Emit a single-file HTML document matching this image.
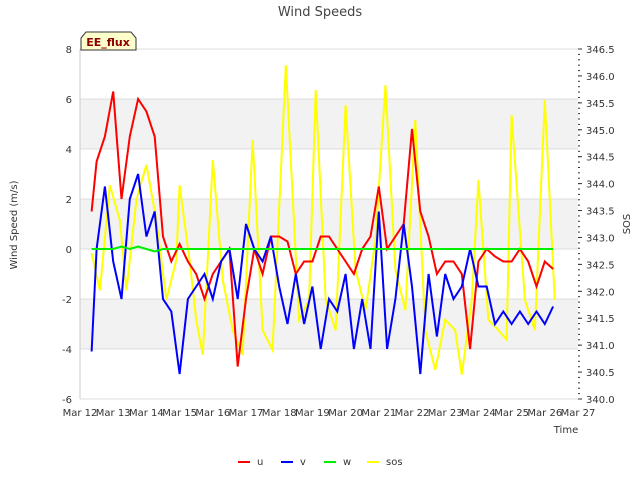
<!DOCTYPE html>
<html><head><meta charset="utf-8"><style>
body{margin:0;background:#fff;font-family:"Liberation Sans","DejaVu Sans",sans-serif}
svg text{font-family:"DejaVu Sans","Liberation Sans",sans-serif}
</style></head><body>
<svg width="640" height="480" id="c">
<text x="320" y="16" text-anchor="middle" font-size="13" fill="#444">Wind Speeds</text>
<g id="plot"></g>
</svg>
<script>
const dayTicks=[12,13,14,15,16,17,18,19,20,21,22,23,24,25,26,27];
const leftTicks=[-6,-4,-2,0,2,4,6,8];
const rightTicks=[340,340.5,341,341.5,342,342.5,343,343.5,344,344.5,345,345.5,346,346.5];
const uT=[12.35,12.5,12.75,13.0,13.25,13.5,13.75,14.0,14.25,14.5,14.75,15.0,15.25,15.5,15.75,16.0,16.25,16.5,16.75,17.0,17.25,17.5,17.75,18.0,18.25,18.5,18.75,19.0,19.25,19.5,19.75,20.0,20.25,20.5,20.75,21.0,21.25,21.5,21.75,22.0,22.25,22.5,22.75,23.0,23.25,23.5,23.75,24.0,24.25,24.5,24.75,25.0,25.25,25.5,25.75,26.0,26.25];
const uV=[1.5,3.5,4.5,6.3,2,4.5,6,5.5,4.5,0.5,-0.5,0.2,-0.5,-1,-2,-1,-0.5,0,-4.7,-2,0,-1,0.5,0.5,0.3,-1,-0.5,-0.5,0.5,0.5,0,-0.5,-1,0,0.5,2.5,0,0.5,1,4.8,1.5,0.5,-1,-0.5,-0.5,-1,-4,-0.5,0,-0.3,-0.5,-0.5,0,-0.5,-1.5,-0.5,-0.8];
const vV=[-4.1,0,2.5,-0.5,-2,2,3,0.5,1.5,-2,-2.5,-5,-2,-1.5,-1,-2,-0.5,0,-2,1,0,-0.5,0.5,-1.5,-3,-1,-3,-1.5,-4,-2,-2.5,-1,-4,-2,-4,1.5,-4,-2,1,-1.5,-5,-1,-3.5,-1,-2,-1.5,0,-1.5,-1.5,-3,-2.5,-3,-2.5,-3,-2.5,-3,-2.3];
const wV=[0,0,0,0,0.1,0,0.1,0,-0.1,0,0,0,0,0,0,0,0,0,0,0,0,0,0,0,0,0,0,0,0,0,0,0,0,0,0,0,0,0,0,0,0,0,0,0,0,0,0,0,0,0,0,0,0,0,0,0,0];
const sT=[12.35,12.6,12.9,13.2,13.4,13.7,14.0,14.3,14.6,14.9,15.0,15.3,15.5,15.7,16.0,16.3,16.6,16.9,17.2,17.5,17.8,18.2,18.6,18.9,19.1,19.4,19.7,20.0,20.3,20.6,20.9,21.2,21.5,21.8,22.1,22.4,22.7,23.0,23.3,23.5,23.8,24.0,24.3,24.6,24.85,25.0,25.4,25.7,26.0,26.3];
const sV=[342.71,342.02,343.97,343.32,342.02,343.70,344.35,343.32,341.84,342.58,343.97,342.58,341.47,340.82,344.44,342.21,341.28,340.82,344.81,341.28,340.91,346.20,341.47,341.84,345.74,341.84,341.28,345.46,342.40,341.65,342.95,345.83,342.40,341.65,345.18,341.28,340.54,341.47,341.28,340.45,341.84,344.07,341.47,341.28,341.10,345.27,341.84,341.28,345.55,341.84];
const L=80,R=578,T=49,B=399;
const xs=d=>L+(d-12)/15*(R-L);
const yl=v=>T+(8-v)/14*(B-T);
const yr=v=>T+(346.5-v)/6.5*(B-T);
const NS='http://www.w3.org/2000/svg';
const g=document.getElementById('plot');
function el(t,a,p){const e=document.createElementNS(NS,t);for(const k in a)e.setAttribute(k,a[k]);(p||g).appendChild(e);return e;}
// bands
[[6,4],[2,0],[-2,-4]].forEach(b=>{const r=el('rect',{x:L,y:yl(b[0]),width:R-L,height:yl(b[1])-yl(b[0]),fill:'#f2f2f2'});

});
leftTicks.forEach(v=>{const l=el('line',{x1:L,x2:R,y1:yl(v),y2:yl(v),stroke:'#dcdcdc','stroke-width':1});


const t=el('text',{x:L-8,y:yl(v)+4,'text-anchor':'end','font-size':10,fill:'#333'});t.textContent=v;

});
el('line',{x1:L,x2:L,y1:T,y2:B,stroke:'#ccc'});
dayTicks.forEach(d=>{const t=el('text',{x:xs(d),y:B+17,'text-anchor':'middle','font-size':10,fill:'#333'});t.textContent='Mar '+d;

});
rightTicks.forEach(v=>{el('line',{x1:R,x2:R+4,y1:yr(v),y2:yr(v),stroke:'#333'});
const t=el('text',{x:R+8,y:yr(v)+4,'font-size':10,fill:'#333'});t.textContent=v.toFixed(1);

});
for(let v=340;v<=346.5;v+=0.1){el('line',{x1:R,x2:R+2,y1:yr(v),y2:yr(v),stroke:'#333'});}
function line(ts,vs,f,col,name,w){const p=el('polyline',{points:ts.map((t,i)=>xs(t)+','+f(vs[i])).join(' '),fill:'none',stroke:col,'stroke-width':w||2});

}
line(sT,sV,yr,'#ffff00','sos-line');
line(uT,uV,yl,'#ff0000','u-line');
line(uT,vV,yl,'#0000ff','v-line');
line(uT,wV,yl,'#00ee00','w-line');
const xt=el('text',{x:566,y:433,'text-anchor':'middle','font-size':10,fill:'#333'});xt.textContent='Time';


const yt=el('text',{x:17,y:225,'text-anchor':'middle','font-size':10,fill:'#333',transform:'rotate(-90 17 225)'});yt.textContent='Wind Speed (m/s)';


const rt=el('text',{x:630,y:224,'text-anchor':'middle','font-size':10,fill:'#333',transform:'rotate(-90 630 224)'});rt.textContent='SOS';


// badge
const bg=el('path',{d:'M81,50 L81,38 L86,32 L131,32 L136,38 L136,50 Z',fill:'#ffffcc',stroke:'#333'});


const bt=el('text',{x:108,y:46,'text-anchor':'middle','font-size':11,'font-weight':'bold',fill:'#8b0000'});bt.textContent='EE_flux';


// legend
[['u','#ff0000',238],['v','#0000ff',281],['w','#00ee00',324],['sos','#ffff00',367]].forEach(e=>{
const l=el('line',{x1:e[2],x2:e[2]+12,y1:462,y2:462,stroke:e[1],'stroke-width':2});


const t=el('text',{x:e[2]+19,y:465,'font-size':10,fill:'#333'});t.textContent=e[0];

});
</script>
</body></html>
